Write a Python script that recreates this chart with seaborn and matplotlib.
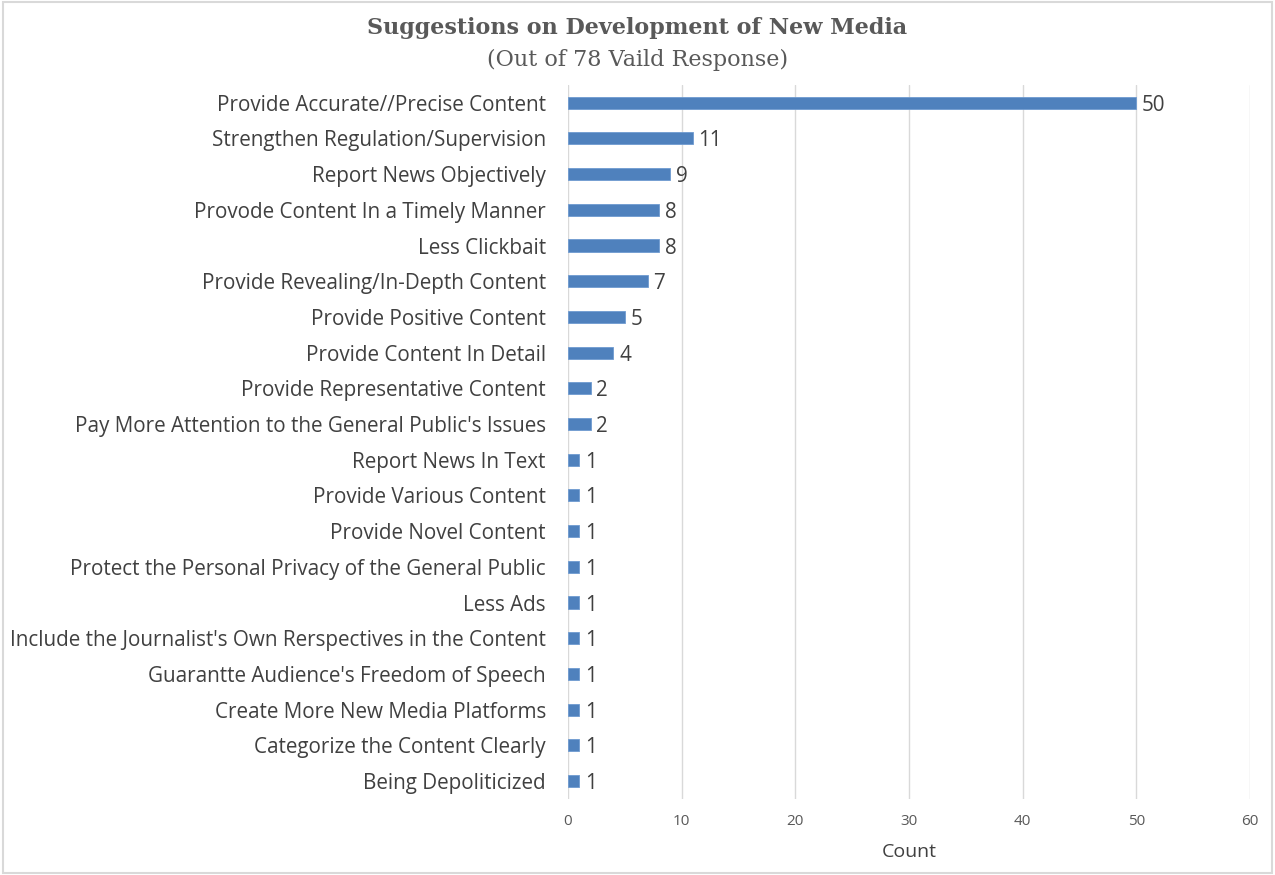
import matplotlib
matplotlib.use("Agg")
import matplotlib.pyplot as plt
import seaborn as sns
import pandas as pd

categories = [
    "Provide Accurate//Precise Content",
    "Strengthen Regulation/Supervision",
    "Report News Objectively",
    "Provode Content In a Timely Manner",
    "Less Clickbait",
    "Provide Revealing/In-Depth Content",
    "Provide Positive Content",
    "Provide Content In Detail",
    "Provide Representative Content",
    "Pay More Attention to the General Public's Issues",
    "Report News In Text",
    "Provide Various Content",
    "Provide Novel Content",
    "Protect the Personal Privacy of the General Public",
    "Less Ads",
    "Include the Journalist's Own Rerspectives in the Content",
    "Guarantte Audience's Freedom of Speech",
    "Create More New Media Platforms",
    "Categorize the Content Clearly",
    "Being Depoliticized",
]
counts = [50, 11, 9, 8, 8, 7, 5, 4, 2, 2, 1, 1, 1, 1, 1, 1, 1, 1, 1, 1]
x_ticks = [0, 10, 20, 30, 40, 50, 60]

df = pd.DataFrame({"Suggestion": categories, "Count": counts})

sns.set_theme(style="white")
plt.rcParams["font.family"] = ["Open Sans", "DejaVu Sans"]

fig = plt.figure(figsize=(12.75, 8.75), dpi=100)
ax = fig.add_axes([0.4455, 0.087, 0.535, 0.816])

sns.barplot(data=df, x="Count", y="Suggestion", orient="h",
            color="#4F81BD", saturation=1, width=0.34,
            edgecolor="#6f9bd0", linewidth=0.6, ax=ax)

ax.set_xlim(0, 60)
ax.set_ylim(len(categories) - 0.5, -0.5)
ax.set_xticks(x_ticks)
ax.xaxis.grid(True, color="#d9d9d9", linewidth=1)
ax.set_axisbelow(True)
for s in ax.spines.values():
    s.set_visible(False)
ax.tick_params(axis="x", length=0, labelsize=11, labelcolor="#595959", pad=11)
ax.tick_params(axis="y", length=0, labelsize=14.9, labelcolor="#404040", pad=16)
ax.set_ylabel("")
ax.set_xlabel("Count", fontsize=14, color="#404040", labelpad=10)

for cont in ax.containers:
    texts = ax.bar_label(cont, labels=[str(v) for v in counts], padding=4,
                         fontsize=14.9, color="#404040")
    for t in texts:
        t.set_va("center_baseline")

fig.text(0.5, 0.968, "Suggestions on Development of New Media",
         ha="center", va="center", fontsize=16, fontweight="bold",
         color="#595959", family="DejaVu Serif")
fig.text(0.5, 0.932, "(Out of 78 Vaild Response)",
         ha="center", va="center", fontsize=16, color="#595959",
         family="DejaVu Serif")

border = plt.Rectangle((0.002, 0.002), 0.996, 0.996, transform=fig.transFigure,
                       fill=False, edgecolor="#d9d9d9", linewidth=1.5)
fig.add_artist(border)

fig.savefig("out.png", dpi=100, facecolor="white")
